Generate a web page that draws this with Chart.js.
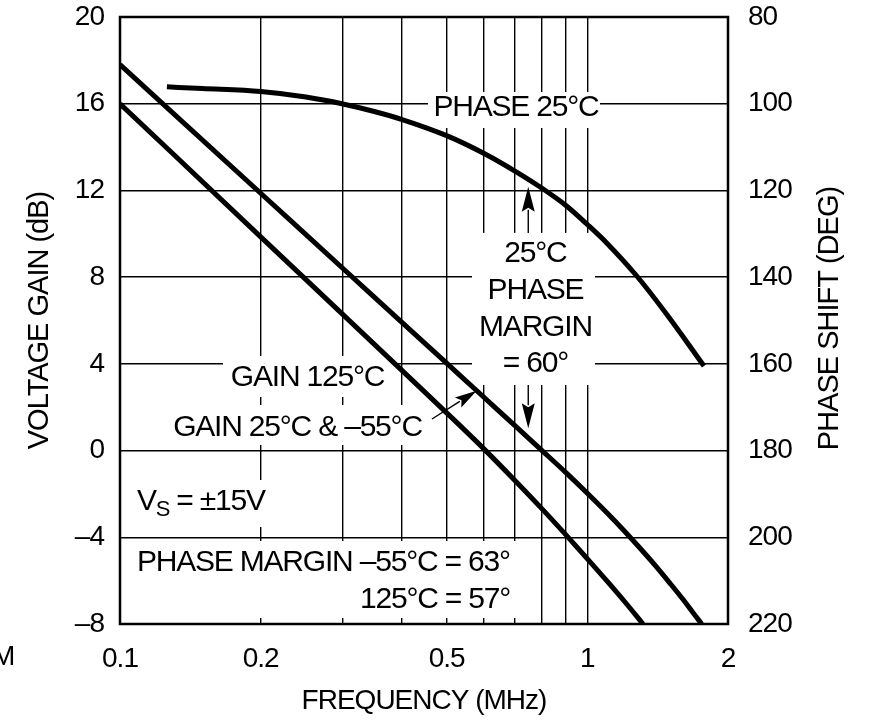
<!DOCTYPE html>
<html><head><meta charset="utf-8">
<script src="https://cdn.jsdelivr.net/npm/chart.js@4.4.1/dist/chart.umd.min.js"></script>
<style>html,body{margin:0;padding:0;background:#fff;}canvas{display:block;}</style>
</head><body>
<canvas id="c" width="869" height="720"></canvas>
<script>
// ---- axis definitions ----
const FREQ_MIN = 0.1, FREQ_MAX = 2;
const freqGrid = [0.1, 0.2, 0.3, 0.4, 0.5, 0.6, 0.7, 0.8, 0.9, 1, 2];
const freqLabelled = [0.1, 0.2, 0.5, 1, 2];
const GAIN_MIN = -8, GAIN_MAX = 20, GAIN_STEP = 4;
const PHASE_MIN = 80, PHASE_MAX = 220, PHASE_STEP = 20;

// ---- series ----
const gain25Freq = [0.1, 0.2, 0.3, 0.4, 0.5, 0.6, 0.7, 0.8, 0.9, 1.0, 1.1, 1.2, 1.3, 1.4, 1.5, 1.6, 1.7, 1.757];
const gain25Db   = [17.8, 11.87, 8.4, 5.94, 4.03, 2.47, 1.15, 0.0, -1.02, -1.97, -2.86, -3.71, -4.53, -5.32, -6.1, -6.85, -7.6, -8.0];

const gain125Freq = [0.1, 0.2, 0.3, 0.4, 0.5, 0.6, 0.7, 0.8, 0.9, 1.0, 1.1, 1.2, 1.316];
const gain125Db   = [16, 9.86, 6.27, 3.72, 1.74, 0.09, -1.38, -2.69, -3.89, -4.99, -6.0, -6.95, -8.0];

const phaseFreq = [0.126, 0.15, 0.2, 0.25, 0.3, 0.35, 0.4, 0.5, 0.6, 0.7, 0.8, 0.9, 1.0, 1.1, 1.276, 1.5, 1.777];
const phaseDeg  = [96.1, 96.5, 97.2, 98.47, 100.07, 101.8, 103.6, 107.37, 111.44, 115.55, 119.51, 123.48, 127.86, 132.1, 139.74, 149.47, 160.5];

// ---- text ----
const xTitle = 'FREQUENCY (MHz)';
const yTitle = 'VOLTAGE GAIN (dB)';
const y2Title = 'PHASE SHIFT (DEG)';
const labelPhase = 'PHASE 25°C';
const labelMargin = ['25°C', 'PHASE', 'MARGIN', '= 60°'];
const labelGain125 = 'GAIN 125°C';
const labelGain25 = 'GAIN 25°C & –55°C';
const labelPM1 = 'PHASE MARGIN –55°C = 63°';
const labelPM2 = '125°C = 57°';

const FONT = '"Liberation Sans", Arial, Helvetica, sans-serif';
const toXY = (xs, ys) => xs.map((f, i) => ({x: f, y: ys[i]}));

function drawArrow(ctx, x1, y1, x2, y2, len, hw) {
  const ang = Math.atan2(y2 - y1, x2 - x1);
  const bx = x2 - Math.cos(ang) * len, by = y2 - Math.sin(ang) * len;
  ctx.beginPath(); ctx.moveTo(x1, y1); ctx.lineTo(bx + Math.cos(ang) * 2, by + Math.sin(ang) * 2); ctx.stroke();
  ctx.beginPath();
  ctx.moveTo(x2, y2);
  ctx.lineTo(bx + Math.sin(ang) * hw, by - Math.cos(ang) * hw);
  ctx.lineTo(bx + Math.cos(ang) * 4, by + Math.sin(ang) * 4);
  ctx.lineTo(bx - Math.sin(ang) * hw, by + Math.cos(ang) * hw);
  ctx.closePath(); ctx.fill();
}

const annot = {
  id: 'annot',
  beforeDraw(chart) { chart.ctx.letterSpacing = '-1px'; },
  beforeDatasetsDraw(chart) {
    const {ctx, chartArea: a, scales: {x, y}} = chart;
    const box = (f1, f2, d1, d2) => {
      const x1 = x.getPixelForValue(f1), x2 = x.getPixelForValue(f2);
      const y1 = y.getPixelForValue(d1), y2 = y.getPixelForValue(d2);
      ctx.fillRect(Math.min(x1, x2), Math.min(y1, y2), Math.abs(x2 - x1), Math.abs(y2 - y1));
    };
    ctx.save();
    ctx.fillStyle = '#fff';
    box(0.456, 1.0645, 16.54, 14.88);   // PHASE 25°C
    box(0.5665, 1.0386, 10.04, 3.025);  // phase margin block
    box(0.1661, 0.3838, 4.363, 2.472);  // GAIN 125°C
    box(0.1218, 0.4651, 2.102, 0.258);  // GAIN 25°C & -55°C
    box(0.1025, 0.2157, -1.357, -3.525); // Vs
    box(0.1025, 0.7357, -4.171, -7.723); // phase margin note
    ctx.strokeStyle = '#000'; ctx.lineWidth = 2.5;
    ctx.strokeRect(a.left, a.top, a.right - a.left, a.bottom - a.top);
    ctx.restore();
  },
  afterDatasetsDraw(chart) {
    const {ctx, scales: {x, y}} = chart;
    const px = f => x.getPixelForValue(f), py = d => y.getPixelForValue(d);
    ctx.save();
    ctx.fillStyle = '#000'; ctx.strokeStyle = '#000';
    ctx.letterSpacing = '-1.2px';
    ctx.font = '30px ' + FONT;
    ctx.textBaseline = 'middle';
    ctx.textAlign = 'center';
    ctx.fillText(labelPhase, px(0.7036), py(15.80));
    const mx = px(0.7745);
    [9.068, 7.361, 5.677, 3.994].forEach((d, i) => ctx.fillText(labelMargin[i], mx, py(d)));
    ctx.fillText(labelGain125, px(0.2519), py(3.348));
    ctx.fillText(labelGain25, px(0.2398), py(1.042));
    ctx.textAlign = 'left';
    // Vs = ±15V
    let vx = px(0.1087); const vy = py(-2.372);
    ctx.fillText('V', vx, vy); vx += ctx.measureText('V').width;
    ctx.font = '22px ' + FONT;
    ctx.fillText('S', vx, vy + 8); vx += ctx.measureText('S').width;
    ctx.font = '30px ' + FONT;
    ctx.fillText(' = ±15V', vx, vy);
    ctx.fillText(labelPM1, px(0.1087), py(-5.186));
    ctx.textAlign = 'right';
    ctx.fillText(labelPM2, px(0.6833), py(-6.893));
    // arrows
    ctx.lineWidth = 1.4;
    const ax = px(0.7475);
    drawArrow(ctx, ax, py(10.04), ax, py(12.17), 25, 6.5);
    drawArrow(ctx, ax, py(3.025), ax, py(1.028), 25, 6.5);
    drawArrow(ctx, px(0.4651), py(1.457), px(0.5798), py(2.762), 22, 6);
    ctx.restore();
  },
  afterDraw(chart) {
    const {ctx, chartArea: a} = chart;
    ctx.save();
    ctx.fillStyle = '#000';
    ctx.letterSpacing = '-1px';
    ctx.font = '29px ' + FONT;
    ctx.textAlign = 'center'; ctx.textBaseline = 'middle';
    ctx.translate(830, (a.top + a.bottom) / 2 - 2);
    ctx.rotate(-Math.PI / 2);
    ctx.fillText(y2Title, 0, 0);
    ctx.restore();
    ctx.save();
    ctx.fillStyle = '#000';
    ctx.font = '28px ' + FONT;
    ctx.textAlign = 'left'; ctx.textBaseline = 'middle';
    ctx.fillText('M', -8, 657);
    ctx.restore();
  }
};

const lineStyle = {borderColor: '#000', borderWidth: 5, pointRadius: 0, fill: false,
  cubicInterpolationMode: 'monotone', borderCapStyle: 'butt', borderJoinStyle: 'round'};

const noVPad = s => { s.paddingTop = 0; s.paddingBottom = 0; };

new Chart(document.getElementById('c'), {
  type: 'line',
  data: {datasets: [
    Object.assign({label: labelGain25, data: toXY(gain25Freq, gain25Db), yAxisID: 'y'}, lineStyle),
    Object.assign({label: labelGain125, data: toXY(gain125Freq, gain125Db), yAxisID: 'y'}, lineStyle),
    Object.assign({label: labelPhase, data: toXY(phaseFreq, phaseDeg), yAxisID: 'y2'}, lineStyle)
  ]},
  options: {
    responsive: false, animation: false, devicePixelRatio: 1,
    layout: {padding: {top: 17, left: 0, right: 0, bottom: 0}},
    plugins: {legend: {display: false}, tooltip: {enabled: false}},
    scales: {
      x: {
        type: 'logarithmic', position: 'bottom', min: FREQ_MIN, max: FREQ_MAX,
        afterBuildTicks: s => { s.ticks = freqGrid.map(v => ({value: v})); },
        afterFit: s => { s.height = 96; s.paddingLeft = 0; s.paddingRight = 0; },
        ticks: {autoSkip: false, maxRotation: 0, minRotation: 0, padding: 18, color: '#000',
          font: {family: FONT, size: 28},
          callback: v => freqLabelled.includes(v) ? String(v) : ''},
        grid: {color: '#000', lineWidth: 1.4, drawTicks: false},
        border: {display: false},
        title: {display: true, text: xTitle, color: '#000', font: {family: FONT, size: 28},
          padding: {top: 0, bottom: 2}}
      },
      y: {
        type: 'linear', position: 'left', min: GAIN_MIN, max: GAIN_MAX,
        afterFit: s => { s.width = 120; noVPad(s); },
        ticks: {stepSize: GAIN_STEP, padding: 16, color: '#000', font: {family: FONT, size: 28},
          callback: v => String(v).replace('-', '–')},
        grid: {color: '#000', lineWidth: 1.4, drawTicks: false},
        border: {display: false},
        title: {display: true, text: yTitle, color: '#000', font: {family: FONT, size: 29},
          padding: {top: 22.6, bottom: 0}}
      },
      y2: {
        type: 'linear', position: 'right', min: PHASE_MIN, max: PHASE_MAX, reverse: true,
        afterFit: s => { s.width = 141; noVPad(s); },
        ticks: {stepSize: PHASE_STEP, padding: 20, color: '#000', font: {family: FONT, size: 28}},
        grid: {display: false, drawTicks: false},
        border: {display: false}
      }
    }
  },
  plugins: [annot]
});
</script>
</body></html>
